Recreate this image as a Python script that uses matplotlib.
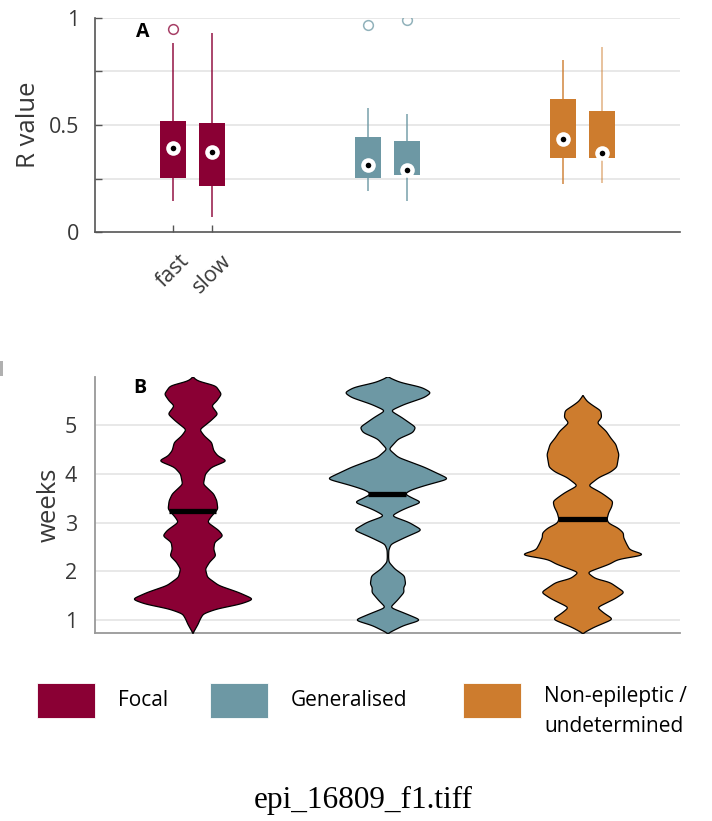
import numpy as np
import matplotlib
matplotlib.use("Agg")
import matplotlib.pyplot as plt
from matplotlib.patches import Rectangle

plt.rcParams["font.family"] = ["Open Sans", "DejaVu Sans"]

# ---------------- data ----------------
groups = ["Focal", "Generalised", "Non-epileptic /\nundetermined"]
colors = ["#8a0034", "#6d98a4", "#cd7c2e"]
speeds = ["fast", "slow"]

# Panel A: R value box summaries, per group [fast, slow]
r_low = [[0.146, 0.069], [0.193, 0.145], [0.226, 0.230]]
r_q1 = [[0.251, 0.216], [0.254, 0.265], [0.344, 0.344]]
r_med = [[0.391, 0.374], [0.312, 0.291], [0.436, 0.371]]
r_q3 = [[0.518, 0.508], [0.442, 0.425], [0.621, 0.564]]
r_high = [[0.882, 0.932], [0.581, 0.553], [0.802, 0.863]]
r_outliers = [[[0.947], []], [[0.969], [0.989]], [[], []]]

# Panel B: density profiles (weeks, relative density) and medians
focal_weeks = [0.74, 0.93, 1.03, 1.14, 1.24, 1.34, 1.44, 1.58, 1.72, 1.89, 2.06,
               2.20, 2.33, 2.47, 2.61, 2.74, 2.85, 3.02, 3.12, 3.29, 3.46, 3.60,
               3.80, 4.01, 4.15, 4.28, 4.38, 4.49, 4.66, 4.79, 4.92, 5.10, 5.24,
               5.41, 5.51, 5.65, 5.82, 5.92, 6.00]
focal_dens = [0, 5, 7, 10, 23, 46, 58.7, 44, 25, 14, 12,
              16, 22, 20, 21, 29, 25, 14, 17, 24, 23, 20,
              10, 12, 18, 33, 24, 20, 18, 11, 6.5, 17, 24,
              18, 23, 27.5, 22, 4.5, 0]

gen_weeks = [0.74, 0.90, 1.01, 1.14, 1.27, 1.41, 1.58, 1.68, 1.75, 1.92, 2.06,
             2.20, 2.30, 2.45, 2.57, 2.71, 2.86, 3.02, 3.15, 3.26, 3.33, 3.43,
             3.50, 3.60, 3.68, 3.77, 3.91, 4.15, 4.35, 4.52, 4.73, 4.86, 4.97,
             5.17, 5.31, 5.44, 5.58, 5.68, 5.79, 5.89, 6.00]
gen_dens = [0, 15, 32, 17.5, 2.2, 8.7, 15.5, 15, 17, 15.8, 6.7,
            1, 0.6, 0.8, 3, 16.7, 32.8, 20, 3.3, 12.5, 20, 32.5,
            25, 16, 22, 35, 58.8, 35, 10, 1, 10, 24, 26.7,
            13.3, 2.5, 15.8, 35, 41.7, 32.5, 11.7, 0]

nonep_weeks = [0.74, 0.86, 1.03, 1.15, 1.27, 1.45, 1.58, 1.79, 1.86, 1.99, 2.16,
               2.26, 2.35, 2.45, 2.57, 2.71, 2.80, 2.90, 3.00, 3.08, 3.21, 3.34,
               3.45, 3.55, 3.63, 3.77, 3.94, 4.05, 4.15, 4.41, 4.62, 4.75, 4.89,
               5.06, 5.17, 5.31, 5.42, 5.50, 5.62]
nonep_dens = [0, 10, 28.3, 20, 13.3, 30, 39, 25, 11.7, 4, 25,
              33, 58.8, 44, 41, 38, 38, 33, 24, 22.5, 24, 27,
              28, 22, 16.7, 5, 15, 26, 31.7, 33.7, 30.8, 26, 21.7,
              13.3, 17.5, 16.7, 9, 4, 0]

week_medians = [3.25, 3.58, 3.07]

# ---------------- figure ----------------
fig = plt.figure(figsize=(7.12, 8.21), dpi=100)
ink = "#383838"

# ---- Panel A: box plots ----
axA = fig.add_axes([0.1334, 0.7174, 0.8216, 0.2607])
offsets = [-0.1, 0.1]
box_w = 0.133
for gi, col in enumerate(colors):
    for si, off in enumerate(offsets):
        x = gi + 1 + off
        whisk_alpha = 0.55 if (gi == 2 and si == 1) else 0.85
        axA.plot([x, x], [r_q3[gi][si], r_high[gi][si]], color=col, lw=1.2,
                 alpha=whisk_alpha, zorder=2, solid_capstyle="butt")
        axA.plot([x, x], [r_low[gi][si], r_q1[gi][si]], color=col, lw=1.2,
                 alpha=whisk_alpha, zorder=2, solid_capstyle="butt")
        axA.add_patch(Rectangle((x - box_w / 2, r_q1[gi][si]), box_w,
                                r_q3[gi][si] - r_q1[gi][si], facecolor=col,
                                edgecolor="none", zorder=3))
        axA.plot(x, r_med[gi][si], "o", ms=10.5, mfc="white", mec="none", zorder=4)
        axA.plot(x, r_med[gi][si], "o", ms=4, mfc="black", mec="none", zorder=5)
        for o in r_outliers[gi][si]:
            axA.plot(x, o, "o", ms=7, mfc="none", mec=col, mew=1.1, alpha=0.75,
                     zorder=4)

axA.set_xlim(0.5, 3.5)
axA.set_ylim(0, 1)
axA.set_yticks([0, 0.25, 0.5, 0.75, 1])
axA.set_yticklabels(["0", "", "0.5", "", "1"])
axA.set_xticks([1 + o for o in offsets])
axA.set_xticklabels(speeds, rotation=45, ha="center", va="top")
axA.tick_params(direction="in", length=5, width=1, color="#555555",
                labelcolor=ink, labelsize=15.5)
axA.tick_params(axis="y", pad=11)
axA.tick_params(axis="x", pad=13)
for y in [0.25, 0.5, 0.75, 1.0]:
    axA.axhline(y, color="#e4e4e4", lw=1.2, zorder=0)
for s in ["top", "right"]:
    axA.spines[s].set_visible(False)
for s in ["left", "bottom"]:
    axA.spines[s].set_color("#555555")
    axA.spines[s].set_linewidth(1.2)
axA.set_ylabel("R value", fontsize=18.5, color=ink, labelpad=6)
axA.text(0.082, 0.935, "A", transform=axA.transAxes, fontsize=14,
         fontweight="bold", ha="center", va="center", color="black")

# ---- Panel B: violins ----
axB = fig.add_axes([0.1334, 0.2286, 0.8216, 0.3127])
profiles = [(focal_weeks, focal_dens), (gen_weeks, gen_dens),
            (nonep_weeks, nonep_dens)]
max_half = 0.30
sig = 0.025
for gi, ((wk, dn), col) in enumerate(zip(profiles, colors)):
    wk = np.asarray(wk, float)
    dn = np.asarray(dn, float)
    step = 0.002
    yy = np.arange(wk[0], wk[-1] + step / 2, step)
    prof = np.interp(yy, wk, dn)
    k = np.arange(-4 * sig, 4 * sig + step / 2, step)
    kern = np.exp(-0.5 * (k / sig) ** 2)
    kern /= kern.sum()
    pad = len(k) // 2
    sm = np.convolve(np.pad(prof, pad, mode="constant"), kern, mode="same")[pad:-pad]
    sm[0] = 0
    sm[-1] = 0
    half = max_half * sm / sm.max()
    x0 = gi + 1
    axB.fill_betweenx(yy, x0 - half, x0 + half, facecolor=col,
                      edgecolor="black", lw=0.9, zorder=3)
    mh = np.interp(week_medians[gi], yy, half)
    axB.plot([x0 - mh, x0 + mh], [week_medians[gi]] * 2, color="black",
             lw=3.8, solid_capstyle="butt", zorder=4)

axB.set_xlim(0.5, 3.5)
axB.set_ylim(0.73, 6.0)
axB.set_yticks([1, 2, 3, 4, 5])
axB.set_xticks([])
axB.tick_params(axis="y", length=0, pad=13, labelcolor=ink, labelsize=15.5)
for y in [1, 2, 3, 4, 5]:
    axB.axhline(y, color="#e4e4e4", lw=1.2, zorder=0)
for s in ["top", "right"]:
    axB.spines[s].set_visible(False)
for s in ["left", "bottom"]:
    axB.spines[s].set_color("#999999")
    axB.spines[s].set_linewidth(1.3)
axB.set_ylabel("weeks", fontsize=18.5, color=ink, labelpad=2)
axB.text(0.077, 0.955, "B", transform=axB.transAxes, fontsize=14,
         fontweight="bold", ha="center", va="center", color="black")

# ---- legend ----
W, H = 712.0, 821.0
patch_x = [37, 210, 463]
for gi, (lab, col) in enumerate(zip(groups, colors)):
    px = patch_x[gi]
    fig.patches.append(Rectangle((px / W, 1 - 718 / H), 58 / W, 35 / H,
                                 transform=fig.transFigure, facecolor=col,
                                 edgecolor="white", lw=0.6))
    if "\n" in lab:
        fig.text((px + 81) / W, 1 - 686 / H, lab, fontsize=15, color="black",
                 ha="left", va="top", linespacing=1.55)
    else:
        fig.text((px + 81) / W, 1 - 700 / H, lab, fontsize=15, color="black",
                 ha="left", va="center")

# small mark at left edge
fig.patches.append(Rectangle((0, 1 - 376 / H), 3 / W, 15 / H,
                             transform=fig.transFigure, facecolor="#b0b0b0",
                             edgecolor="none"))

fig.text(363 / W, 1 - 800 / H, "epi_16809_f1.tiff", fontsize=22.5,
         family="Liberation Serif", ha="center", va="center", color="black")

fig.savefig("out.png", dpi=100)
